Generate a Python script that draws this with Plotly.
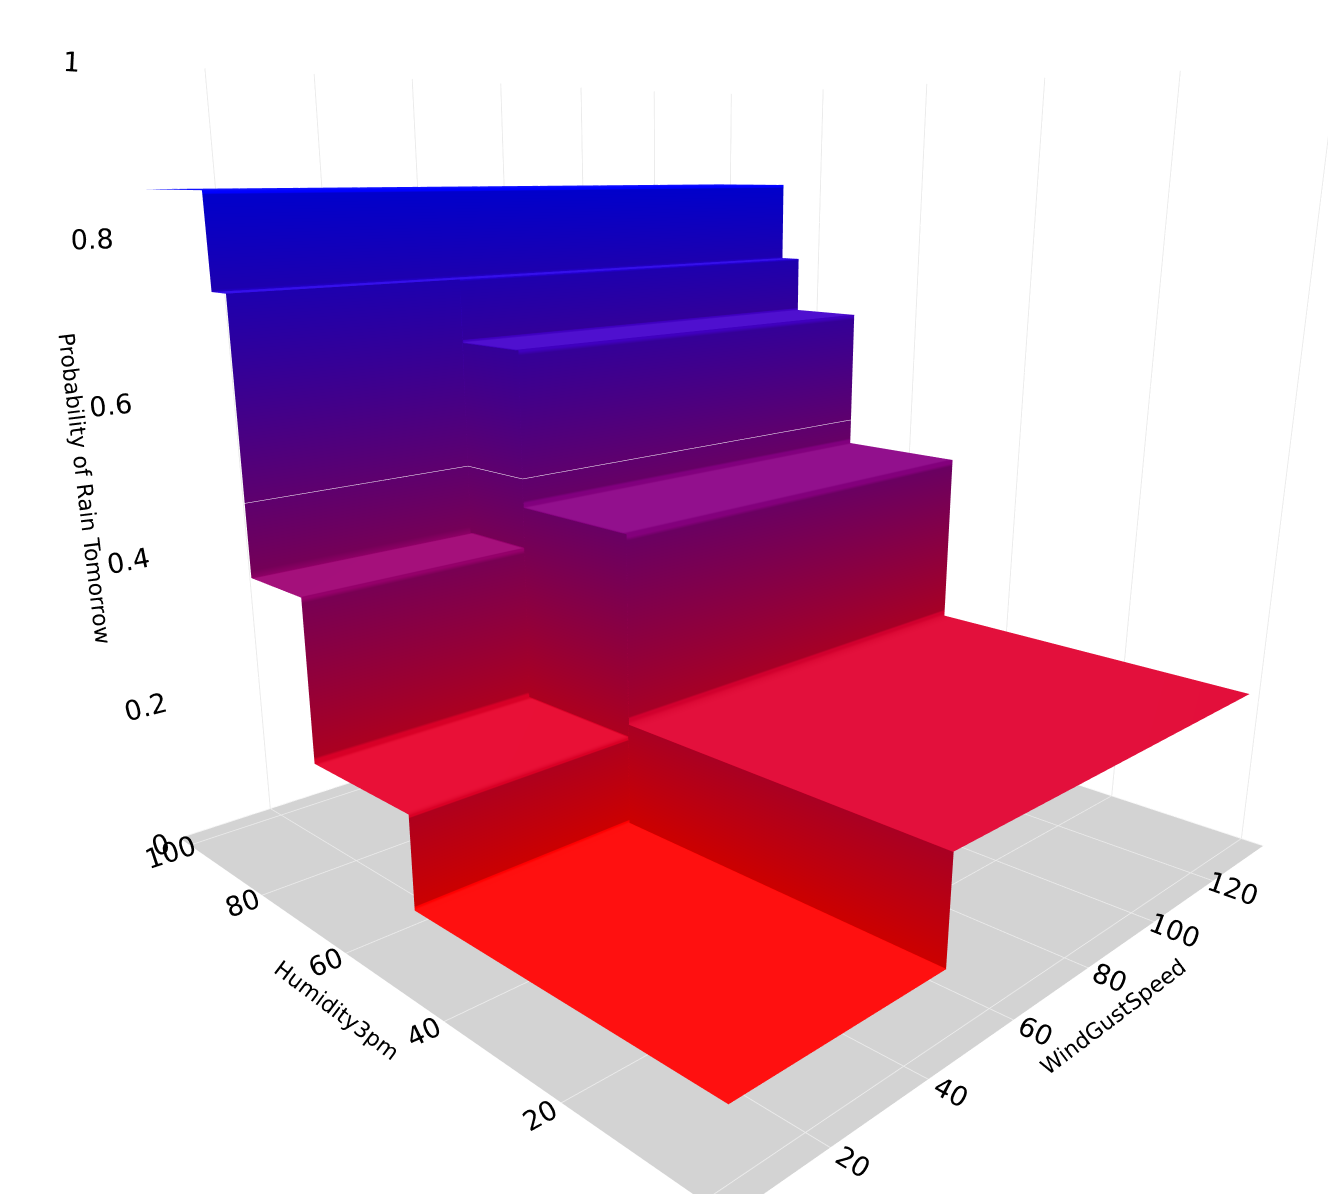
import numpy as np
import plotly.graph_objects as go

# Predicted probability of rain tomorrow from a decision tree on two features
wind_range = [6, 135]        # WindGustSpeed min / max
hum_range = [0, 100]         # Humidity3pm min / max
wind_splits = [48.6]
hum_splits = [49.5, 69.6, 81.5, 85.1]

# probability for each humidity band, for wind below and above the wind split
prob_low_wind = [0.085, 0.202, 0.408, 0.744, 0.857]
prob_high_wind = [0.219, 0.463, 0.664, 0.744, 0.857]


def step_coords(lo, hi, splits, eps=0.05):
    """Grid coordinates that give sharp steps at every split, plus the band index of each."""
    coords, band = [lo], [0]
    for k, s in enumerate(splits):
        coords += [s - eps, s + eps]
        band += [k, k + 1]
    coords.append(hi)
    band.append(len(splits))
    return np.array(coords), band


wind, wind_band = step_coords(*wind_range, wind_splits)
hum, hum_band = step_coords(*hum_range, hum_splits)

table = np.column_stack([prob_low_wind, prob_high_wind])
z = np.array([[table[hb, wb] for wb in wind_band] for hb in hum_band])

fig = go.Figure(go.Surface(
    x=wind, y=hum, z=z,
    colorscale="Bluered_r",
    showscale=False,
    contours=dict(z=dict(show=True, start=0.5, end=0.51, size=0.5, color="white", width=1)),
))

axis_style = dict(showbackground=True, backgroundcolor="white", gridcolor="#ebebeb",
                  zerolinecolor="#ebebeb", tickfont=dict(size=18))
title_font = dict(size=22)

fig.update_layout(
    width=1336, height=1194,
    margin=dict(l=0, r=0, t=0, b=0),
    font=dict(family="Verdana, DejaVu Sans", color="black"),
    paper_bgcolor="white",
    scene=dict(
        xaxis=dict(title=dict(text="WindGustSpeed", font=title_font), **axis_style),
        yaxis=dict(title=dict(text="Humidity3pm", font=title_font), **axis_style),
        zaxis=dict(title=dict(text="Probability of Rain Tomorrow", font=title_font), range=[0, 1],
                   **{**axis_style, "backgroundcolor": "lightgray", "gridcolor": "white"}),
        aspectmode="manual",
        aspectratio=dict(x=1, y=1, z=0.955),
        camera=dict(eye=dict(x=-1.231, y=-1.192, z=0.36),
                    center=dict(x=-0.039, y=0.039, z=-0.155)),
    ),
)

fig.write_html("out.html")
